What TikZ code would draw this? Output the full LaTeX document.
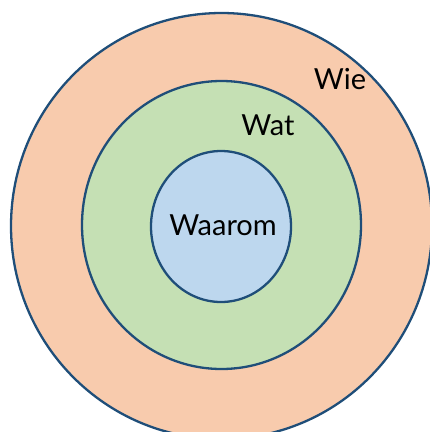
\documentclass[tikz,border=0pt]{standalone}
\usepackage{fontspec}
\setmainfont{Lato}
\definecolor{ringline}{HTML}{1F4E79}
\definecolor{outerfill}{HTML}{F8CBAD}
\definecolor{midfill}{HTML}{C5E0B4}
\definecolor{innerfill}{HTML}{BDD7EE}
\begin{document}
\begin{tikzpicture}[x=1pt,y=-1pt,
  ring/.style={draw=ringline,line width=2.3pt},
  lbl/.style={inner sep=0pt,anchor=base,font=\fontsize{29}{34}\selectfont,text=black}]
\useasboundingbox (0,0) rectangle (430,432);
\begin{scope}
\clip (0,0) rectangle (430,432);
\draw[ring,fill=outerfill] (221.5,226) ellipse [x radius=210.5, y radius=213];
\draw[ring,fill=midfill] (221.5,225) ellipse [x radius=139.5, y radius=144];
\draw[ring,fill=innerfill] (221,226.5) ellipse [x radius=70, y radius=75.5];
\end{scope}
\node[lbl] (waarom) at (223,235) {Waarom};
\node[lbl] (wat) at (268,135) {Wat};
\node[lbl] (wie) at (340,89) {Wie};
\end{tikzpicture}
\end{document}
